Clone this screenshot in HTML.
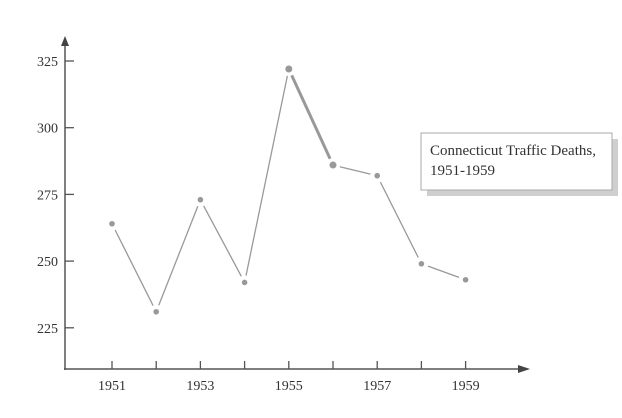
<!DOCTYPE html>
<html><head><meta charset="utf-8"><style>
html,body{margin:0;padding:0;background:#fff;}
svg text{font-family:"Liberation Serif",serif;fill:#333;}
</style></head><body>
<svg width="622" height="413" viewBox="0 0 622 413">
<g id="axes"></g>
<g id="series"></g>
<g>
<rect x="427" y="139" width="191" height="57" fill="#cfcfcf"/>
<rect x="421" y="133" width="191" height="57" fill="#fff" stroke="#aaa" stroke-width="1"/>
<text x="430" y="155" font-size="15">Connecticut Traffic Deaths,</text>
<text x="430" y="175" font-size="15">1951-1959</text>
</g>
</svg>
<script>
const years=[1951,1952,1953,1954,1955,1956,1957,1958,1959];
const deaths=[264,231,273,242,322,286,282,249,243];
const yTicks=[225,250,275,300,325];
const xTickLabels=[1951,1953,1955,1957,1959];
const NS='http://www.w3.org/2000/svg';
const xs=y=>112+(y-1951)*44.2;
const ys=v=>61+(325-v)*2.668;
const axes=document.getElementById('axes'),ser=document.getElementById('series');
function mk(tag,attrs,parent){const e=document.createElementNS(NS,tag);for(const k in attrs)e.setAttribute(k,attrs[k]);parent.appendChild(e);return e;}
let a=mk('line',{x1:65,y1:370,x2:65,y2:44,stroke:'#555','stroke-width':1.5},axes);


a=mk('polygon',{points:'61,46 65,36 69,46',fill:'#444'},axes);


a=mk('line',{x1:64,y1:369,x2:520,y2:369,stroke:'#555','stroke-width':1.5},axes);


a=mk('polygon',{points:'518,365 530,369 518,373',fill:'#444'},axes);


yTicks.forEach(v=>{
 const t=mk('line',{x1:65,y1:ys(v),x2:74,y2:ys(v),stroke:'#555','stroke-width':1.3},axes);
 
 
 const l=mk('text',{x:58,y:ys(v)+5,'font-size':14,'text-anchor':'end'},axes);
 l.textContent=v;
 
 
});
years.forEach(y=>{
 const t=mk('line',{x1:xs(y),y1:369,x2:xs(y),y2:361,stroke:'#555','stroke-width':1.3},axes);
 
 
});
xTickLabels.forEach(y=>{
 const l=mk('text',{x:xs(y),y:390,'font-size':14,'text-anchor':'middle'},axes);
 l.textContent=y;
 
 
});
for(let i=0;i<years.length-1;i++){
 const x1=xs(years[i]),y1=ys(deaths[i]),x2=xs(years[i+1]),y2=ys(deaths[i+1]);
 const d=Math.hypot(x2-x1,y2-y1),g=7,ux=(x2-x1)/d,uy=(y2-y1)/d;
 const s=mk('line',{x1:x1+ux*g,y1:y1+uy*g,x2:x2-ux*g,y2:y2-uy*g,stroke:'#999','stroke-width':years[i]===1955?3:1.3},ser);
 
 
}
years.forEach((y,i)=>{
 const c=mk('circle',{cx:xs(y),cy:ys(deaths[i]),r:(y===1955||y===1956)?3.5:2.8,fill:'#999'},ser);
 
 
});
</script>
</body></html>
